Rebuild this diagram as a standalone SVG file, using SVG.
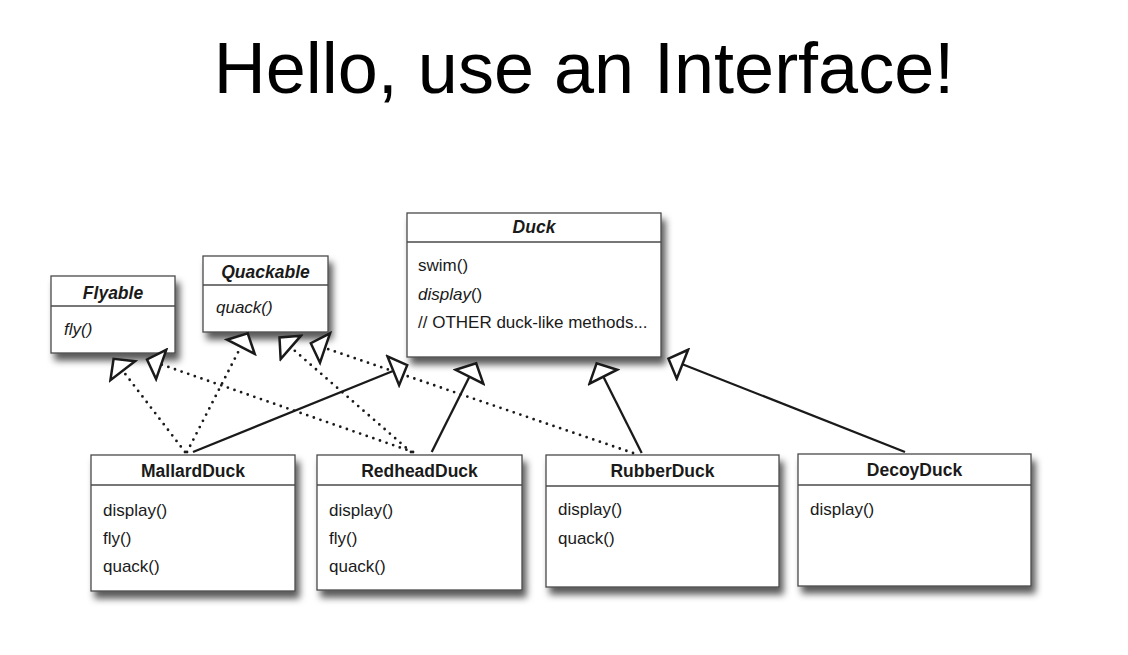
<svg xmlns="http://www.w3.org/2000/svg" width="1128" height="655" viewBox="0 0 1128 655">
  <style>
    .title { font-family: "Liberation Sans", Arial, sans-serif; font-size: 72px; fill: #000; }
    .box { fill: #fff; stroke: #4a4a4a; stroke-width: 1.3; }
    .sep { stroke: #4a4a4a; stroke-width: 1.3; }
    .name { font-family: "Liberation Sans", Arial, sans-serif; font-size: 17.5px; font-weight: bold; fill: #1a1a1a; text-anchor: middle; }
    .iface { font-style: italic; }
    .op { font-family: "Liberation Sans", Arial, sans-serif; font-size: 17px; fill: #1a1a1a; }
    .it { font-style: italic; }
    .solid { fill: none; stroke: #1a1a1a; stroke-width: 2.3; marker-end: url(#gen); }
    .dotted { fill: none; stroke: #1a1a1a; stroke-width: 2.8; stroke-linecap: round; stroke-dasharray: 0 7; marker-end: url(#gen); }
  </style>
  <defs>
    <filter id="shadow" x="-10%" y="-10%" width="125%" height="140%">
      <feDropShadow dx="4" dy="7" stdDeviation="3.5" flood-color="#000" flood-opacity="0.65"/>
    </filter>
    <!-- hollow generalization arrowhead, tip at the path end -->
    <marker id="gen" viewBox="-18 -18 22 36" refX="0" refY="0" markerWidth="22" markerHeight="36" markerUnits="userSpaceOnUse" orient="auto">
      <path d="M0,0 L-15,-15.5 L-15,15.5 Z" fill="#fff" stroke="#1a1a1a" stroke-width="2.5" stroke-linejoin="miter" stroke-dasharray="none"/>
    </marker>
  </defs>

  <rect width="1128" height="655" fill="#fff"/>

  <text class="title" x="584" y="93" text-anchor="middle">Hello, use an Interface!</text>

  <!-- interfaces -->
  <g id="flyable">
    <rect class="box" x="51" y="276" width="124" height="77" filter="url(#shadow)"/>
    <line class="sep" x1="51" y1="306" x2="175" y2="306"/>
    <text class="name iface" x="113" y="299">Flyable</text>
    <text class="op it" x="64" y="335">fly()</text>
  </g>

  <g id="quackable">
    <rect class="box" x="203" y="256" width="125" height="76" filter="url(#shadow)"/>
    <line class="sep" x1="203" y1="285" x2="328" y2="285"/>
    <text class="name iface" x="265.5" y="278">Quackable</text>
    <text class="op it" x="216" y="313">quack()</text>
  </g>

  <!-- abstract superclass -->
  <g id="duck">
    <rect class="box" x="407" y="213" width="254" height="144" filter="url(#shadow)"/>
    <line class="sep" x1="407" y1="242" x2="661" y2="242"/>
    <text class="name iface" x="534" y="233">Duck</text>
    <text class="op" x="418" y="271" font-size="16.5">swim()</text>
    <text class="op" x="418" y="300" font-size="16.5"><tspan class="it">display</tspan>()</text>
    <text class="op" x="418" y="328" font-size="16.5">// OTHER duck-like methods...</text>
  </g>

  <!-- concrete ducks -->
  <g id="mallardDuck">
    <rect class="box" x="91" y="455" width="204" height="136" filter="url(#shadow)"/>
    <line class="sep" x1="91" y1="485" x2="295" y2="485"/>
    <text class="name" x="193" y="477">MallardDuck</text>
    <text class="op" x="103" y="516">display()</text>
    <text class="op" x="103" y="544">fly()</text>
    <text class="op" x="103" y="572">quack()</text>
  </g>

  <g id="redheadDuck">
    <rect class="box" x="317" y="455" width="205" height="135" filter="url(#shadow)"/>
    <line class="sep" x1="317" y1="485" x2="522" y2="485"/>
    <text class="name" x="419.5" y="477">RedheadDuck</text>
    <text class="op" x="329" y="516">display()</text>
    <text class="op" x="329" y="544">fly()</text>
    <text class="op" x="329" y="572">quack()</text>
  </g>

  <g id="rubberDuck">
    <rect class="box" x="546" y="455" width="233" height="132" filter="url(#shadow)"/>
    <line class="sep" x1="546" y1="486" x2="779" y2="486"/>
    <text class="name" x="662.5" y="477">RubberDuck</text>
    <text class="op" x="558" y="515">display()</text>
    <text class="op" x="558" y="544">quack()</text>
  </g>

  <g id="decoyDuck">
    <rect class="box" x="798" y="454" width="233" height="132" filter="url(#shadow)"/>
    <line class="sep" x1="798" y1="485" x2="1031" y2="485"/>
    <text class="name" x="914.5" y="476">DecoyDuck</text>
    <text class="op" x="810" y="515">display()</text>
  </g>

  <!-- realization (dotted) and generalization (solid) -->
  <g id="connectors">
    <path class="dotted" d="M185,452 L113.6,358.8"/>
    <path class="dotted" d="M413,452 L147,359.5"/>
    <path class="dotted" d="M187,452 L247.7,333.4"/>
    <path class="dotted" d="M411,452 L279.5,337.5"/>
    <path class="dotted" d="M633,453 L310.8,343.2"/>
    <path class="solid" d="M193,452 L407.2,365.2"/>
    <path class="solid" d="M431.7,452 L476.2,363.3"/>
    <path class="solid" d="M641.7,453 L596.6,363.3"/>
    <path class="solid" d="M905,452 L668.5,358.7"/>
  </g>
</svg>
